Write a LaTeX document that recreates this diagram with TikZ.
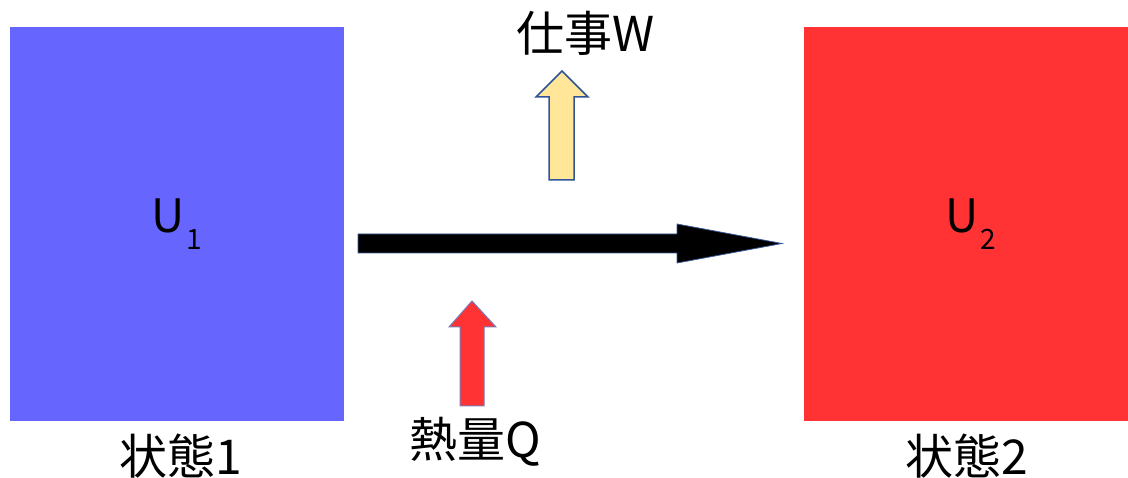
\documentclass[tikz,border=0pt]{standalone}
\usepackage{fontspec}
\setmainfont{Noto Sans CJK JP}
\definecolor{stateblue}{HTML}{6666FF}
\definecolor{statered}{HTML}{FF3333}
\definecolor{workfill}{HTML}{FFE699}
\definecolor{workline}{HTML}{2F5597}
\definecolor{heatline}{HTML}{7A7AB8}
\definecolor{mainline}{HTML}{3B5998}
\begin{document}
\begin{tikzpicture}[x=1pt,y=-1pt,
  statebox/.style={draw=none,minimum width=#1,minimum height=394pt,inner sep=0pt},
  lbl/.style={font=\fontsize{48}{50}\selectfont,inner sep=0pt},
  ulbl/.style={font=\fontsize{46}{48}\selectfont,inner sep=0pt},
]
\useasboundingbox (0,0) rectangle (1128,478);
\node[statebox=334pt,fill=stateblue] (s1) at (177,224) {};
\node[statebox=324pt,fill=statered] (s2) at (966,224) {};
\node[ulbl,anchor=base west] (u1) at (151,233) {U\hspace{2pt}\raisebox{-17pt}{\fontsize{28}{30}\selectfont 1}};
\node[ulbl,anchor=base west] (u2) at (945,233) {U\hspace{2pt}\raisebox{-17pt}{\fontsize{28}{30}\selectfont 2}};
\node[lbl] (st1) at (181,456) {状態1};
\node[lbl] (st2) at (967,456) {状態2};
\node[lbl] (w) at (586,33) {仕事W};
\node[lbl] (q) at (475,442) {熱量Q};
% main process arrow
\draw[draw=mainline,line width=0.8pt,fill=black]
  (358,234) -- (677,234) -- (677,224) -- (782,243.5) -- (677,263) -- (677,253) -- (358,253) -- cycle;
% work arrow
\draw[draw=workline,line width=1.5pt,fill=workfill,line join=miter]
  (549,180) -- (549,97) -- (536,97) -- (562,71) -- (588,97) -- (574,97) -- (574,180) -- cycle;
% heat arrow
\draw[draw=heatline,line width=1pt,fill=statered,line join=miter]
  (460,406) -- (460,327) -- (449,327) -- (472,301) -- (496,327) -- (484,327) -- (484,406) -- cycle;
\end{tikzpicture}
\end{document}
